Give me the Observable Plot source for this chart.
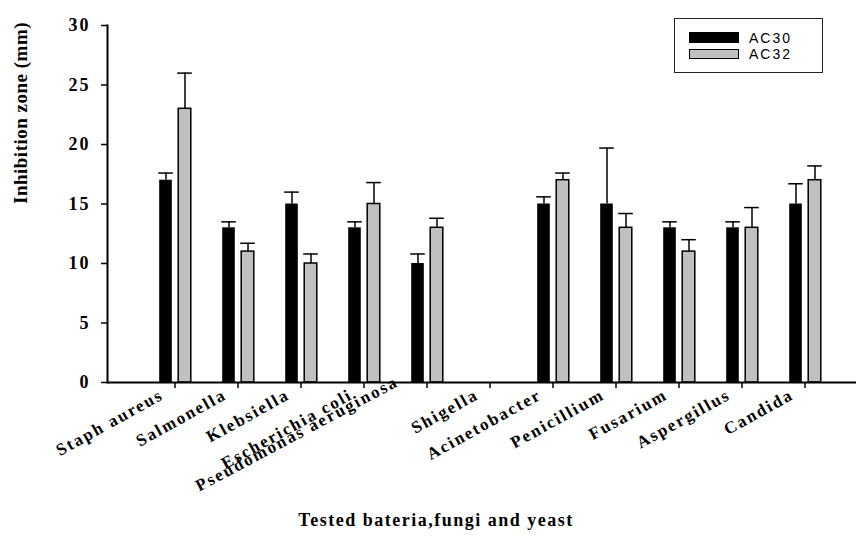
<!DOCTYPE html>
<html>
<head>
<meta charset="utf-8">
<script src="https://cdn.jsdelivr.net/npm/d3@7"></script>
<script src="https://cdn.jsdelivr.net/npm/@observablehq/plot@0.6"></script>
<style>
  body { margin: 0; background: #fff; }
  #wrap { position: relative; width: 856px; height: 538px; overflow: hidden; }
  .legend { position: absolute; left: 674px; top: 18px; width: 149px; height: 55px; box-sizing: border-box; border: 1.5px solid #222; background: #fff; }
  .sw { position: absolute; left: 14px; width: 50px; box-sizing: border-box; }
  .lt { position: absolute; left: 74px; font-family: "Liberation Sans", Arial, sans-serif; font-size: 14px; letter-spacing: 2px; line-height: 14px; color: #000; }
</style>
</head>
<body>
<div id="wrap">
  <div id="chart"></div>
  <div class="legend" id="legend"></div>
</div>
<script>
const categories = ["Staph aureus", "Salmonella", "Klebsiella", "Escherichia coli", "Pseudomonas aeruginosa", "Shigella", "Acinetobacter", "Penicillium", "Fusarium", "Aspergillus", "Candida"];
const seriesNames = ["AC30", "AC32"];
const ac30 = [17, 13, 15, 13, 10, null, 15, 15, 13, 13, 15];
const ac30Err = [0.6, 0.5, 1.0, 0.5, 0.8, null, 0.6, 4.7, 0.5, 0.5, 1.7];
const ac32 = [23, 11, 10, 15, 13, null, 17, 13, 11, 13, 17];
const ac32Err = [3.0, 0.7, 0.8, 1.8, 0.8, null, 0.6, 1.2, 1.0, 1.7, 1.2];
const yTicks = [0, 5, 10, 15, 20, 25, 30];
const yLabel = "Inhibition zone (mm)";
const xLabel = "Tested bateria,fungi and yeast";

const rows30 = categories.map((c, i) => ({category: c, v: ac30[i], e: ac30Err[i]})).filter(d => d.v != null);
const rows32 = categories.map((c, i) => ({category: c, v: ac32[i], e: ac32Err[i]})).filter(d => d.v != null);
const longLabel = "Pseudomonas aeruginosa";

const serif = "'Liberation Serif', 'Times New Roman', serif";

const chart = Plot.plot({
  width: 856,
  height: 538,
  marginTop: 25,
  marginBottom: 156,
  marginLeft: 107,
  marginRight: 0,
  style: {fontFamily: serif, background: "#fff", color: "#000"},
  x: {type: "band", domain: categories, range: [140.3, 837.7], padding: 0},
  y: {domain: [0, 30], range: [382, 25]},
  marks: [
    Plot.barY(rows30, {x: "category", y: "v", fill: "#000", insetLeft: 16.2, insetRight: 34.2}),
    Plot.barY(rows32, {x: "category", y: "v", fill: "#c0c0c0", stroke: "#000", strokeWidth: 1.5, insetLeft: 35.2, insetRight: 15.2}),
    Plot.ruleX(rows30, {x: "category", y1: "v", y2: d => d.v + d.e, dx: -9, stroke: "#000", strokeWidth: 1.5}),
    Plot.tickY(rows30, {x: "category", y: d => d.v + d.e, insetLeft: 15.2, insetRight: 33.2, stroke: "#000", strokeWidth: 1.5}),
    Plot.ruleX(rows32, {x: "category", y1: "v", y2: d => d.v + d.e, dx: 10, stroke: "#000", strokeWidth: 1.5}),
    Plot.tickY(rows32, {x: "category", y: d => d.v + d.e, insetLeft: 34.2, insetRight: 14.2, stroke: "#000", strokeWidth: 1.5}),
    Plot.ruleY([0], {stroke: "#000", strokeWidth: 2}),
    Plot.frame({anchor: "left", stroke: "#000", strokeWidth: 2}),
    Plot.axisY({ticks: yTicks, tickSize: 6, tickPadding: 11, label: null, fontSize: 18, fontWeight: "bold", fontFamily: serif, stroke: "#000", strokeWidth: 1.5}),
    Plot.axisX({tickSize: 6, tickFormat: () => "", label: null, stroke: "#000", strokeWidth: 1.5}),
    Plot.text(categories.filter(c => c !== longLabel), {x: d => d, frameAnchor: "bottom", text: d => d, rotate: -29, textAnchor: "end", lineAnchor: "middle", dx: -13, dy: 11, fontSize: 17, fontWeight: "bold", fontFamily: serif, fill: "#000"}),
    Plot.text([longLabel], {x: d => d, frameAnchor: "bottom", text: d => d, rotate: -28, textAnchor: "end", lineAnchor: "middle", dx: -30, dy: -2, fontSize: 17, fontWeight: "bold", fontFamily: serif, fill: "#000"}),
    Plot.text([yLabel], {frameAnchor: "left", text: d => d, rotate: -90, dx: -87, fontSize: 19, fontWeight: "bold", fontFamily: serif, fill: "#000"}),
    Plot.text([xLabel], {frameAnchor: "bottom", text: d => d, dx: -46, dy: 143, fontSize: 18, fontWeight: "bold", fontFamily: serif, fill: "#000"})
  ]
});
document.getElementById("chart").appendChild(chart);

// letter spacing to mimic the wide text of the reference
const svg = d3.select(chart.tagName === "svg" ? chart : chart.querySelector("svg"));
svg.selectAll("text").each(function() {
  const t = this.textContent;
  if (t === xLabel) this.setAttribute("letter-spacing", "1.5");
  else if (t === yLabel) this.setAttribute("letter-spacing", "0.5");
  else if (categories.includes(t)) this.setAttribute("letter-spacing", "2");
  else if (/^\d+$/.test(t)) this.setAttribute("letter-spacing", "2");
});

// legend
const legend = document.getElementById("legend");
const swatches = [
  {name: seriesNames[0], top: 13, h: 11, bg: "#000", border: "none"},
  {name: seriesNames[1], top: 30, h: 10, bg: "#c0c0c0", border: "1.5px solid #000"}
];
for (const s of swatches) {
  const sw = document.createElement("div");
  sw.className = "sw";
  sw.style.top = s.top + "px";
  sw.style.height = s.h + "px";
  sw.style.background = s.bg;
  sw.style.border = s.border;
  legend.appendChild(sw);
  const lt = document.createElement("div");
  lt.className = "lt";
  lt.style.top = (s.top + s.h / 2 - 7) + "px";
  lt.textContent = s.name;
  legend.appendChild(lt);
}
</script>
</body>
</html>
